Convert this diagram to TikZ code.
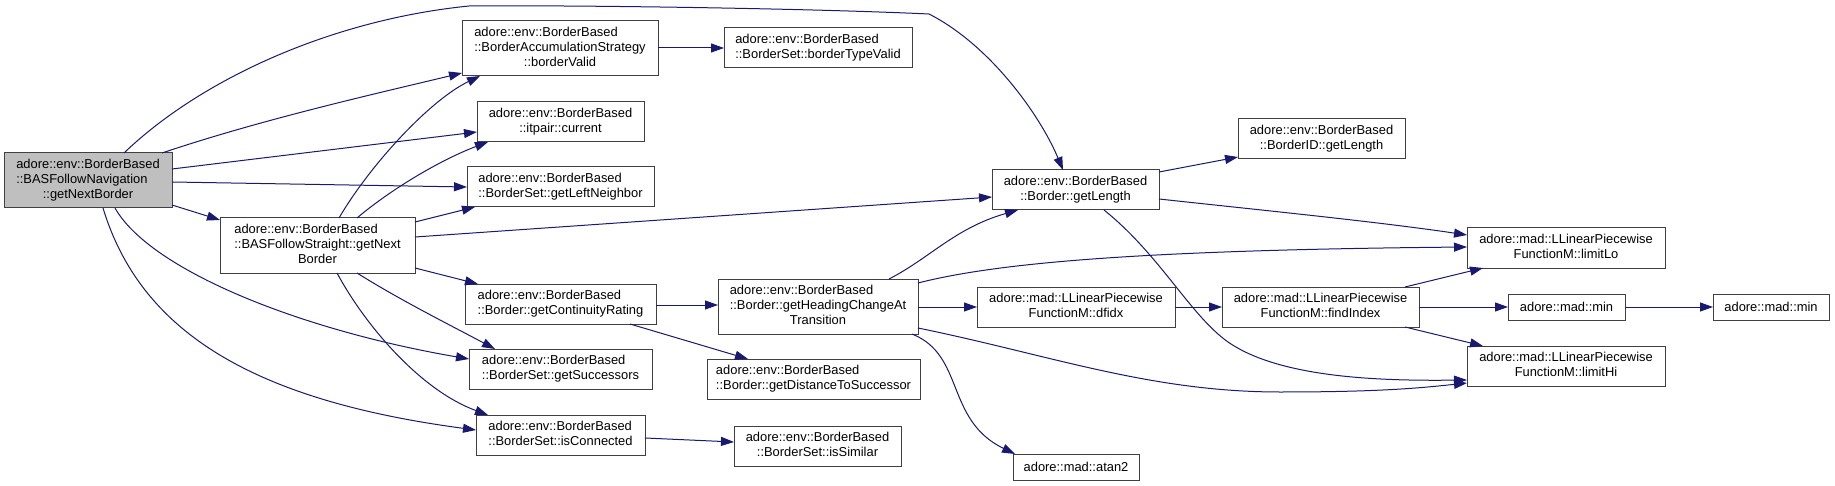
\documentclass[tikz,border=0pt]{standalone}
\usepackage{fontspec}
\setmainfont{Liberation Sans}
\usetikzlibrary{arrows.meta,calc}
\definecolor{navy}{HTML}{191970}
\definecolor{boxline}{HTML}{404040}
\definecolor{mainfill}{HTML}{BFBFBF}
\newcommand{\twol}[2]{\begin{tabular}{@{}l@{}}#1\\\multicolumn{1}{@{}c@{}}{#2}\end{tabular}}
\newcommand{\threel}[3]{\begin{tabular}{@{}l@{}}#1\\#2\\\multicolumn{1}{@{}c@{}}{#3}\end{tabular}}
\newcommand{\callnode}[7][]{\node[fnbox,#1,minimum width=#5pt,minimum height=#6pt,anchor=north west] (#2) at (#3,#4) {#7};}
\tikzset{
  fnbox/.style={draw=boxline,fill=white,line width=1pt,inner sep=0pt,outer sep=0pt,
    font=\fontsize{12.9pt}{14.6pt}\selectfont,text=black},
  mainbox/.style={fill=mainfill},
  call/.style={draw=navy,line width=1pt,-{Triangle[length=13pt,width=9pt,fill=navy]}}
}
\begin{document}
\begin{tikzpicture}[x=1pt,y=-1pt]
\useasboundingbox[fill=white] (0,0) rectangle (1835,486);
% nodes
\callnode[mainbox]{M}{4}{153}{168}{55}{\threel{adore::env::BorderBased}{::BASFollowNavigation}{::getNextBorder}}
\callnode{BV}{462}{21}{196}{55}{\threel{adore::env::BorderBased}{::BorderAccumulationStrategy}{::borderValid}}
\callnode{BTV}{724}{28}{188}{40}{\twol{adore::env::BorderBased}{::BorderSet::borderTypeValid}}
\callnode{IT}{477}{102}{167}{40}{\twol{adore::env::BorderBased}{::itpair::current}}
\callnode{LN}{467}{167}{187}{40}{\twol{adore::env::BorderBased}{::BorderSet::getLeftNeighbor}}
\callnode{BS}{220}{218}{195}{55}{\threel{adore::env::BorderBased}{::BASFollowStraight::getNext}{Border}}
\callnode{CR}{465}{284}{191}{40}{\twol{adore::env::BorderBased}{::Border::getContinuityRating}}
\callnode{SU}{469}{349}{183}{40}{\twol{adore::env::BorderBased}{::BorderSet::getSuccessors}}
\callnode{IC}{476}{415}{169}{40}{\twol{adore::env::BorderBased}{::BorderSet::isConnected}}
\callnode{H}{718}{279}{200}{55}{\threel{adore::env::BorderBased}{::Border::getHeadingChangeAt}{Transition}}
\callnode{DS}{707}{359}{213}{40}{\twol{adore::env::BorderBased}{::Border::getDistanceToSuccessor}}
\callnode{IS}{734}{426}{167}{40}{\twol{adore::env::BorderBased}{::BorderSet::isSimilar}}
\callnode{L}{992}{170}{167}{40}{\twol{adore::env::BorderBased}{::Border::getLength}}
\callnode{BID}{1238}{119}{167}{40}{\twol{adore::env::BorderBased}{::BorderID::getLength}}
\callnode{DF}{977}{287}{198}{40}{\twol{adore::mad::LLinearPiecewise}{FunctionM::dfidx}}
\callnode{FI}{1222}{287}{197}{40}{\twol{adore::mad::LLinearPiecewise}{FunctionM::findIndex}}
\callnode{AT}{1013}{454}{126}{26}{adore::mad::atan2}
\callnode{LO}{1467}{228}{198}{40}{\twol{adore::mad::LLinearPiecewise}{FunctionM::limitLo}}
\callnode{MNA}{1508}{294}{117}{26}{adore::mad::min}
\callnode{MNB}{1713}{294}{116}{26}{adore::mad::min}
\callnode{HI}{1467}{346}{198}{40}{\twol{adore::mad::LLinearPiecewise}{FunctionM::limitHi}}
% edges from main
\draw[call] ($(M.north west)+(120,0)$) .. controls (200,80) and (330,20) .. (469,6)
  .. controls (560,5) and (800,8) .. (929,14)
  .. controls (990,45) and (1040,115) .. ($(L.north west)+(71,0)$);
\draw[call] ($(M.north west)+(158,0)$) .. controls (260,120) and (370,95) .. ($(BV.north west)+(0,52)$);
\draw[call] ($(M.north west)+(168,16)$) -- ($(IT.north west)+(0,30)$);
\draw[call] ($(M.north west)+(168,29)$) -- ($(LN.north west)+(0,20)$);
\draw[call] ($(M.north west)+(168,52)$) -- ($(BS.north west)+(0,2)$);
\draw[call] ($(M.north west)+(111,55)$) .. controls (150,270) and (300,330) .. ($(SU.north west)+(0,10)$);
\draw[call] ($(M.north west)+(99,55)$) .. controls (140,330) and (250,400) .. ($(IC.north west)+(0,15)$);
% edges from BASFollowStraight
\draw[call] ($(BS.north west)+(119,0)$) .. controls (370,165) and (430,100) .. ($(BV.north west)+(18,55)$);
\draw[call] ($(BS.north west)+(137,0)$) .. controls (390,190) and (440,160) .. ($(IT.north west)+(11,40)$);
\draw[call] ($(BS.north west)+(195,4)$) -- ($(LN.north west)+(8,40)$);
\draw[call] ($(BS.north west)+(195,19)$) -- ($(L.north west)+(0,27)$);
\draw[call] ($(BS.north west)+(195,50)$) -- ($(CR.north west)+(13,0)$);
\draw[call] ($(BS.north west)+(137,55)$) .. controls (400,300) and (450,325) .. ($(SU.north west)+(26,0)$);
\draw[call] ($(BS.north west)+(117,55)$) .. controls (365,325) and (420,390) .. ($(IC.north west)+(12,0)$);
% other edges
\draw[call] ($(BV.north west)+(196,27)$) -- ($(BTV.north west)+(0,20)$);
\draw[call] ($(CR.north west)+(191,21)$) -- ($(H.north west)+(0,26)$);
\draw[call] ($(CR.north west)+(165,40)$) -- ($(DS.north west)+(41,0)$);
\draw[call] ($(IC.north west)+(169,23)$) -- ($(IS.north west)+(0,16)$);
\draw[call] ($(H.north west)+(171,0)$) .. controls (930,258) and (955,228) .. ($(L.north west)+(26,40)$);
\draw[call] ($(H.north west)+(200,4)$) .. controls (1000,262) and (1150,250) .. ($(LO.north west)+(0,19)$);
\draw[call] ($(H.north west)+(200,28)$) -- ($(DF.north west)+(0,20)$);
\draw[call] ($(H.north west)+(200,49)$) .. controls (1050,355) and (1150,392) .. (1280,392)
  .. controls (1380,392) and (1420,388) .. ($(HI.north west)+(0,37)$);
\draw[call] ($(H.north west)+(194,55)$) .. controls (965,355) and (945,420) .. ($(AT.north west)+(2,0)$);
\draw[call] ($(L.north west)+(167,2)$) -- ($(BID.north west)+(0,38)$);
\draw[call] ($(L.north west)+(167,29)$) .. controls (1260,210) and (1380,222) .. ($(LO.north west)+(0,7)$);
\draw[call] ($(L.north west)+(112,40)$) .. controls (1160,255) and (1190,315) .. (1228,342)
  .. controls (1280,378) and (1380,381) .. ($(HI.north west)+(0,34)$);
\draw[call] ($(DF.north west)+(198,20)$) -- ($(FI.north west)+(0,20)$);
\draw[call] ($(FI.north west)+(183,0)$) -- ($(LO.north west)+(16,40)$);
\draw[call] ($(FI.north west)+(197,20)$) -- ($(MNA.north west)+(0,13)$);
\draw[call] ($(FI.north west)+(183,40)$) -- ($(HI.north west)+(16,0)$);
\draw[call] ($(MNA.north west)+(117,13)$) -- ($(MNB.north west)+(0,13)$);
\end{tikzpicture}
\end{document}
